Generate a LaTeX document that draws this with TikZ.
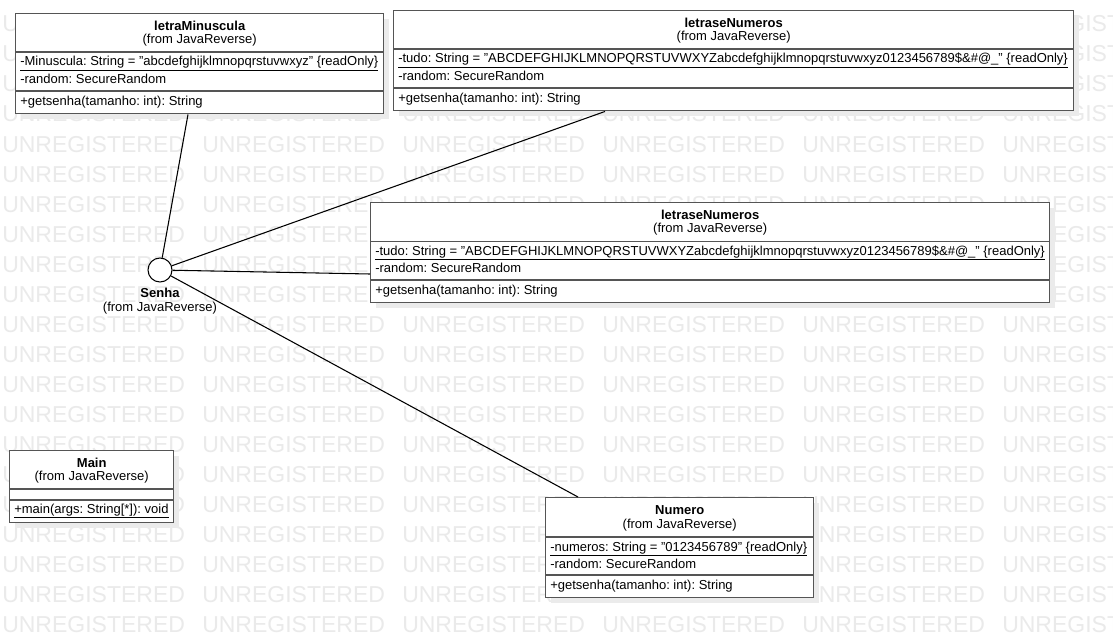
\documentclass[tikz,border=0pt]{standalone}
\usepackage{fontspec}
\setmainfont{Liberation Sans}
\usetikzlibrary{calc}
\frenchspacing
\definecolor{bord}{HTML}{555555}
\definecolor{wm}{HTML}{EAEAEA}
\definecolor{shad}{HTML}{EBEBEB}
\tikzset{
  x=0.75pt,y=-0.75pt,
  classbox/.style={draw=bord,line width=1.1pt,fill=white,anchor=north west,inner sep=0pt},
  sepline/.style={draw=bord,line width=1.1pt},
  txt/.style={inner sep=0pt,font=\fontsize{9.75pt}{11pt}\selectfont,text=black},
  ttl/.style={inner sep=0pt,font=\fontsize{9.75pt}{11pt}\selectfont\bfseries,text=black},
  attr/.style={txt,anchor=west},
  conn/.style={draw=black,line width=0.8pt},
  wmark/.style={anchor=base west,inner sep=0pt,text=wm,font=\fontsize{17.25pt}{20pt}\selectfont},
  iface/.style={circle,draw=black,line width=0.8pt,fill=white,minimum size=18pt,inner sep=0pt},
}
\newcommand\umlbox[5]{%
  \fill[shad] (#2+6,#3+6) rectangle ++(#4,#5);
  \node[classbox,minimum width=#4*0.75pt,minimum height=#5*0.75pt] (#1) at (#2,#3) {};
}
\newcommand\umlsep[2]{%
  \draw[sepline] ($(#1.north west)+(0,#2)$) -- ($(#1.north east)+(0,#2)$);
}
\begin{document}
\begin{tikzpicture}
\useasboundingbox (0,0) rectangle (1113,638);
\fill[white] (0,0) rectangle (1113,638);
% watermark
\begin{scope}
\clip (0,0) rectangle (1113,638);
\foreach \r in {1,...,21}{
  \foreach \c in {0,...,5}{
    \node[wmark] (wm-\r-\c) at (2+200*\c,2+30*\r) {UNREGISTERED};
  }
}
\end{scope}

% letraMinuscula
\umlbox{box1}{15}{13}{368}{100}
\umlsep{box1}{39}
\umlsep{box1}{78}
\node[ttl] (b1t) at ($(box1.north)+(0,12.5)$) {letraMinuscula};
\node[txt] (b1f) at ($(box1.north)+(0,27)$) {(from JavaReverse)};
\node[attr] (b1a) at ($(box1.north west)+(5,50.5)$) {\underline{-Minuscula: String = "abcdefghijklmnopqrstuvwxyz" \{readOnly\}}};
\node[attr] (b1b) at ($(box1.north west)+(5,65.5)$) {-random: SecureRandom};
\node[attr] (b1o) at ($(box1.north west)+(5,89)$) {+getsenha(tamanho: int): String};

% letraseNumeros (top)
\umlbox{box2}{393}{10}{680}{100}
\umlsep{box2}{39}
\umlsep{box2}{78}
\node[ttl] (b2t) at ($(box2.north)+(0,12.5)$) {letraseNumeros};
\node[txt] (b2f) at ($(box2.north)+(0,27)$) {(from JavaReverse)};
\node[attr] (b2a) at ($(box2.north west)+(5,50.5)$) {\underline{-tudo: String = "ABCDEFGHIJKLMNOPQRSTUVWXYZabcdefghijklmnopqrstuvwxyz0123456789\$\&\#@\_" \{readOnly\}}};
\node[attr] (b2b) at ($(box2.north west)+(5,65.5)$) {-random: SecureRandom};
\node[attr] (b2o) at ($(box2.north west)+(5,89)$) {+getsenha(tamanho: int): String};

% letraseNumeros (middle)
\umlbox{box3}{370}{202}{679}{100}
\umlsep{box3}{39.5}
\umlsep{box3}{78}
\node[ttl] (b3t) at ($(box3.north)+(0,12.5)$) {letraseNumeros};
\node[txt] (b3f) at ($(box3.north)+(0,27)$) {(from JavaReverse)};
\node[attr] (b3a) at ($(box3.north west)+(5,51)$) {\underline{-tudo: String = "ABCDEFGHIJKLMNOPQRSTUVWXYZabcdefghijklmnopqrstuvwxyz0123456789\$\&\#@\_" \{readOnly\}}};
\node[attr] (b3b) at ($(box3.north west)+(5,66)$) {-random: SecureRandom};
\node[attr] (b3o) at ($(box3.north west)+(5,89)$) {+getsenha(tamanho: int): String};

% Numero
\umlbox{numero}{545}{497}{268}{100}
\umlsep{numero}{40}
\umlsep{numero}{78}
\node[ttl] (b4t) at ($(numero.north)+(0,13)$) {Numero};
\node[txt] (b4f) at ($(numero.north)+(0,28)$) {(from JavaReverse)};
\node[attr] (b4a) at ($(numero.north west)+(5,52)$) {\underline{-numeros: String = "0123456789" \{readOnly\}}};
\node[attr] (b4b) at ($(numero.north west)+(5,67)$) {-random: SecureRandom};
\node[attr] (b4o) at ($(numero.north west)+(5,89.5)$) {+getsenha(tamanho: int): String};

% Main
\umlbox{main}{9}{450}{164}{72}
\umlsep{main}{39}
\umlsep{main}{50}
\node[ttl] (b5t) at ($(main.north)+(0,12.5)$) {Main};
\node[txt] (b5f) at ($(main.north)+(0,27)$) {(from JavaReverse)};
\node[attr] (b5o) at ($(main.north west)+(5,61)$) {\underline{+main(args: String[*]): void}};

% Senha interface
\node[iface] (senha) at (160,270) {};
\node[ttl] (senhaT) at (160,293) {Senha};
\node[txt] (senhaF) at (160,308) {(from JavaReverse)};

% connectors
\draw[conn] (senha) -- ($(box1.south west)+(173,0)$);
\draw[conn] (senha) -- ($(box2.south west)+(212,0)$);
\draw[conn] (senha) -- ($(box3.north west)+(0,72)$);
\draw[conn] (senha) -- ($(numero.north west)+(33,0)$);
\end{tikzpicture}
\end{document}
